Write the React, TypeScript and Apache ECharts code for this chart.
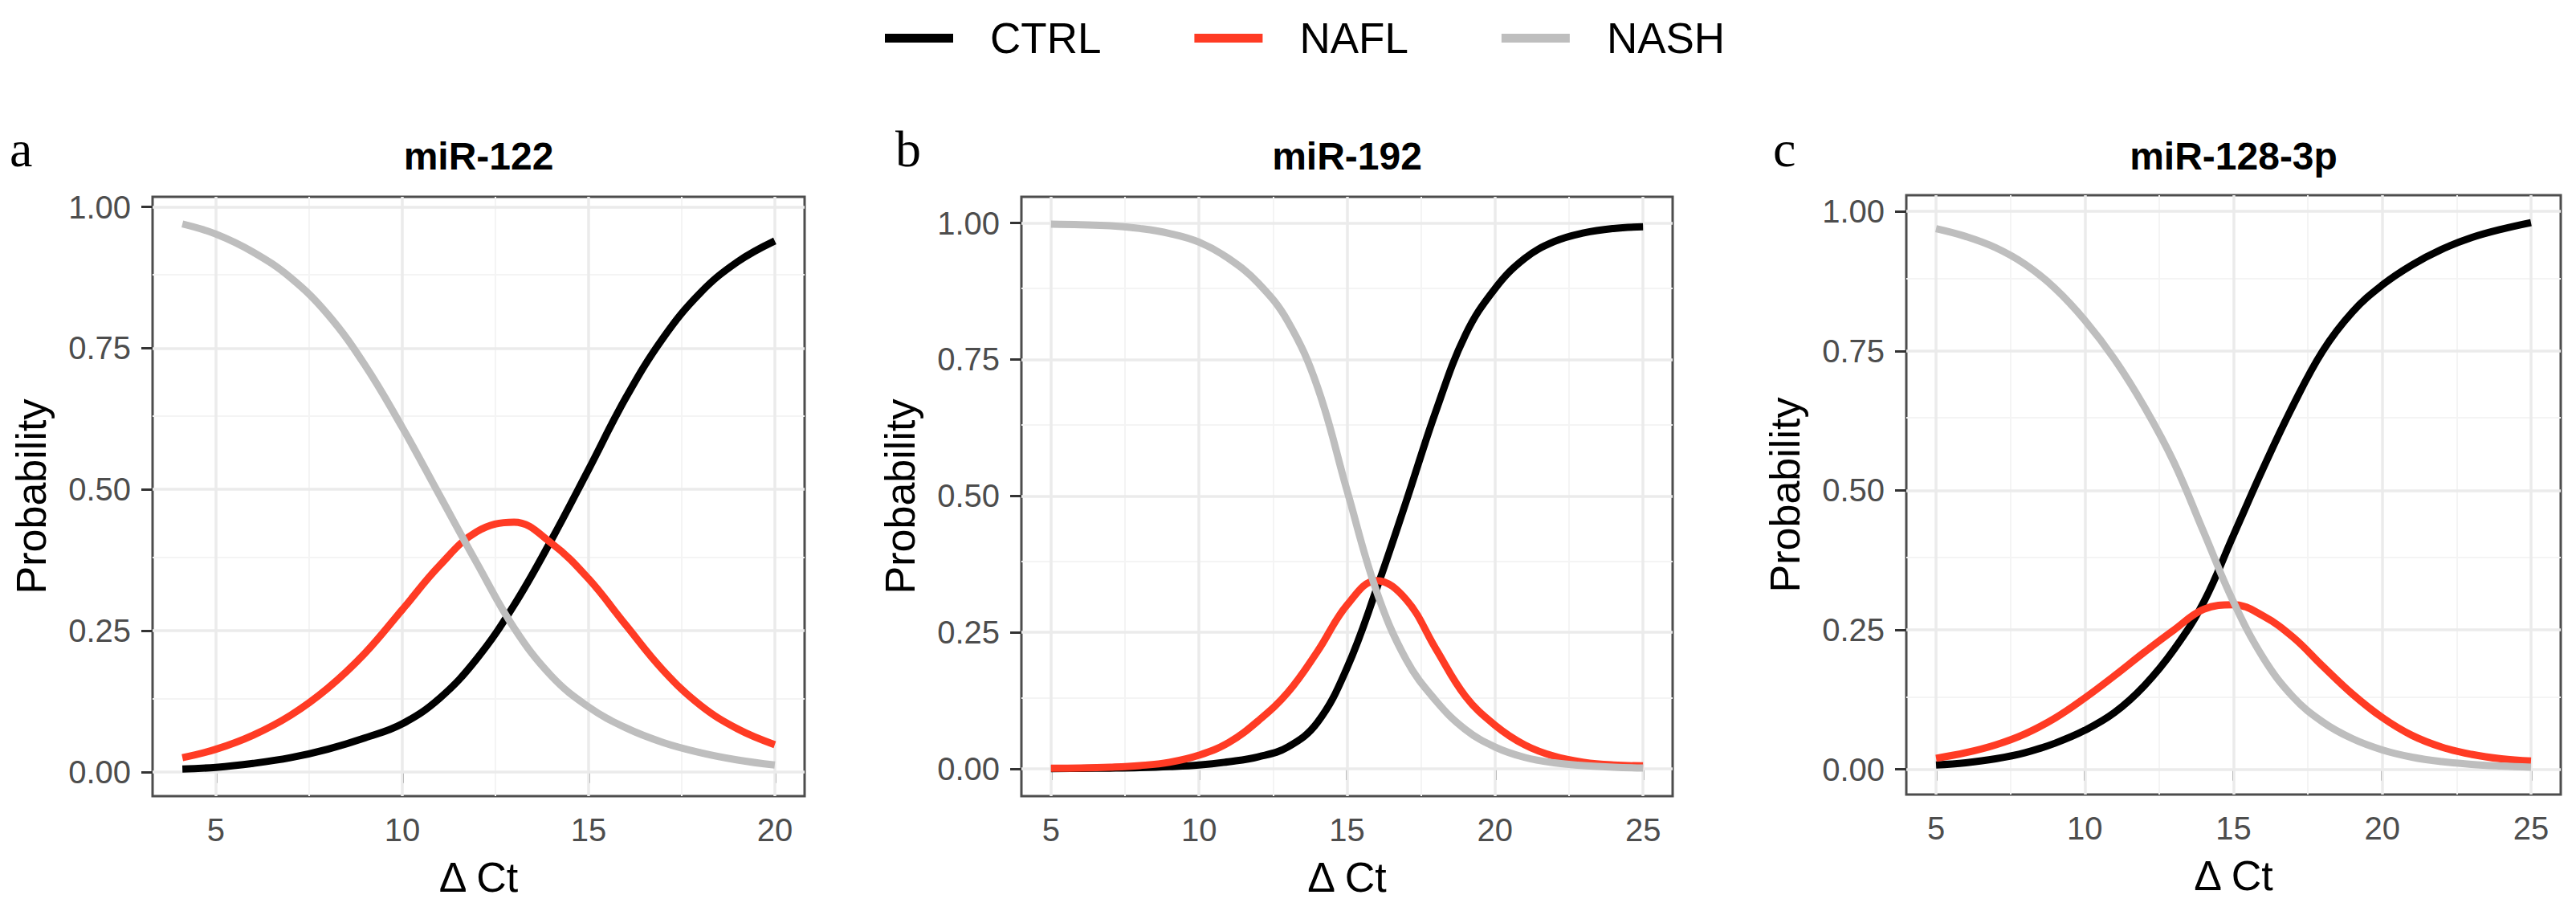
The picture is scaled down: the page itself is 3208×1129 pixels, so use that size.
import { useEffect, useRef } from "react";
import * as echarts from "echarts";

const xA = [4.1, 5, 6, 7, 8, 9, 10, 11, 12, 13, 14, 15, 16, 17, 18, 19, 20];
const xBC = [5, 6, 7, 8, 9, 10, 11, 12, 13, 14, 15, 16, 17, 18, 19, 20, 21, 22, 23, 24, 25];

// miR-122
const ctrlA = [0.005, 0.008, 0.015, 0.025, 0.04, 0.06, 0.085, 0.13, 0.2, 0.295, 0.41, 0.535, 0.662, 0.768, 0.848, 0.903, 0.94];
const naflA = [0.025, 0.04, 0.065, 0.1, 0.148, 0.21, 0.287, 0.365, 0.425, 0.442, 0.405, 0.342, 0.26, 0.18, 0.118, 0.076, 0.048];
const nashA = [0.97, 0.952, 0.92, 0.875, 0.81, 0.72, 0.61, 0.49, 0.37, 0.255, 0.17, 0.115, 0.078, 0.052, 0.034, 0.021, 0.012];

// miR-192
const ctrlB = [0.0005, 0.0008, 0.0013, 0.0022, 0.004, 0.007, 0.013, 0.022, 0.04, 0.085, 0.185, 0.33, 0.49, 0.655, 0.795, 0.88, 0.935, 0.966, 0.982, 0.99, 0.993];
const naflB = [0.001, 0.0015, 0.003, 0.006, 0.012, 0.025, 0.048, 0.088, 0.14, 0.215, 0.3, 0.345, 0.31, 0.22, 0.133, 0.08, 0.044, 0.023, 0.012, 0.007, 0.0055];
const nashB = [0.998, 0.997, 0.995, 0.99, 0.981, 0.965, 0.935, 0.89, 0.82, 0.7, 0.51, 0.325, 0.2, 0.125, 0.072, 0.04, 0.021, 0.011, 0.006, 0.003, 0.0015];

// miR-128-3p
const ctrlC = [0.008, 0.012, 0.019, 0.03, 0.047, 0.07, 0.102, 0.15, 0.215, 0.3, 0.42, 0.54, 0.652, 0.75, 0.82, 0.868, 0.904, 0.932, 0.953, 0.968, 0.98];
const naflC = [0.02, 0.03, 0.044, 0.064, 0.092, 0.128, 0.168, 0.21, 0.25, 0.287, 0.295, 0.275, 0.237, 0.185, 0.135, 0.093, 0.061, 0.04, 0.027, 0.019, 0.015];
const nashC = [0.969, 0.955, 0.935, 0.905, 0.862, 0.805, 0.735, 0.65, 0.55, 0.425, 0.3, 0.2, 0.13, 0.085, 0.055, 0.035, 0.022, 0.014, 0.009, 0.006, 0.004];

const groups = ["CTRL", "NAFL", "NASH"];
const colors = ["#000000", "#FF3B24", "#BEBEBE"];
const titles = ["miR-122", "miR-192", "miR-128-3p"];
const letters = ["a", "b", "c"];

const xTicksA = [5, 10, 15, 20];
const xMinorA = [7.5, 12.5, 17.5];
const xTicksBC = [5, 10, 15, 20, 25];
const xMinorBC = [7.5, 12.5, 17.5, 22.5];
const yTicks = [0, 0.25, 0.5, 0.75, 1];
const yMinor = [0.125, 0.375, 0.625, 0.875];

const FONT = "'Liberation Sans', Arial, sans-serif";

const panels = [
  {
    x: xA, ys: [ctrlA, naflA, nashA], xTicks: xTicksA, xMinor: xMinorA,
    xMin: 3.3, xMax: 20.8, yMin: -0.043, yMax: 1.018,
    left: 190, top: 245, width: 812, height: 746, labelX: 12,
  },
  {
    x: xBC, ys: [ctrlB, naflB, nashB], xTicks: xTicksBC, xMinor: xMinorBC,
    xMin: 4, xMax: 26, yMin: -0.05, yMax: 1.048,
    left: 1272, top: 245, width: 811, height: 746, labelX: 1115,
  },
  {
    x: xBC, ys: [ctrlC, naflC, nashC], xTicks: xTicksBC, xMinor: xMinorBC,
    xMin: 4, xMax: 26, yMin: -0.045, yMax: 1.029,
    left: 2374, top: 243, width: 815, height: 746, labelX: 2208,
  },
];

function App() {
  const chartRef = useRef<HTMLDivElement>(null);

  useEffect(() => {
    document.body.style.margin = "0";
    const chart = echarts.init(chartRef.current, null, { renderer: "svg" });

    const series: any[] = [];
    panels.forEach((p, i) => {
      // panel grid lines, minor first so the major ones sit on top
      const gridLines = [
        ...p.xMinor.map((v) => ({ xAxis: v, lineStyle: { color: "#F4F4F4", width: 2 } })),
        ...yMinor.map((v) => ({ yAxis: v, lineStyle: { color: "#F4F4F4", width: 2 } })),
        ...p.xTicks.map((v) => ({ xAxis: v, lineStyle: { color: "#EBEBEB", width: 3.5 } })),
        ...yTicks.map((v) => ({ yAxis: v, lineStyle: { color: "#EBEBEB", width: 3.5 } })),
      ];
      series.push({
        type: "line",
        name: "grid" + i,
        xAxisIndex: i,
        yAxisIndex: i,
        data: [],
        silent: true,
        markLine: {
          z: 1,
          silent: true,
          symbol: ["none", "none"],
          label: { show: false },
          emphasis: { disabled: true },
          lineStyle: { type: "solid" },
          data: gridLines,
        },
      });
      groups.forEach((g, k) => {
        series.push({
          type: "line",
          name: g,
          xAxisIndex: i,
          yAxisIndex: i,
          data: p.x.map((v, j) => [v, p.ys[k][j]]),
          symbol: "none",
          showSymbol: false,
          smooth: 0.4,
          silent: true,
          z: 3,
          color: colors[k],
          itemStyle: { color: colors[k] },
          lineStyle: { color: colors[k], width: 9 },
          emphasis: { disabled: true },
        });
      });
    });

    const option: any = {
      animation: false,
      textStyle: { fontFamily: FONT },
      legend: {
        left: 1097,
        top: 16,
        icon: "rect",
        itemWidth: 85,
        itemHeight: 11,
        itemGap: 116,
        data: groups,
        selectedMode: false,
        formatter: (name: string) => "{gap|}{txt|" + name + "}",
        textStyle: {
          fontSize: 53,
          color: "#000",
          fontFamily: FONT,
          rich: {
            gap: { width: 41 },
            txt: { fontSize: 53, color: "#000", fontFamily: FONT },
          },
        },
      },
      title: panels.map((p, i) => ({
        text: titles[i],
        left: p.left + p.width / 2,
        top: 170,
        padding: 0,
        textAlign: "center",
        textStyle: { fontSize: 48, fontWeight: "bold", color: "#000", fontFamily: FONT },
      })),
      grid: panels.map((p) => ({
        left: p.left,
        top: p.top,
        width: p.width,
        height: p.height,
        show: true,
        borderColor: "#4D4D4D",
        borderWidth: 3,
        backgroundColor: "transparent",
        outerBoundsMode: "none",
      })),
      xAxis: panels.map((p, i) => ({
        type: "value",
        gridIndex: i,
        min: p.xMin,
        max: p.xMax,
        axisLine: { show: false },
        axisTick: { show: true, length: 14, customValues: p.xTicks, lineStyle: { color: "#333", width: 3 } },
        axisLabel: { customValues: p.xTicks, fontSize: 40, color: "#4D4D4D", margin: 22, fontFamily: FONT },
        splitLine: { show: false },
        name: "Δ Ct",
        nameLocation: "middle",
        nameGap: 75,
        nameTextStyle: { fontSize: 52, color: "#000", fontFamily: FONT },
      })),
      yAxis: panels.map((p, i) => ({
        type: "value",
        gridIndex: i,
        min: p.yMin,
        max: p.yMax,
        axisLine: { show: false },
        axisTick: { show: true, length: 14, customValues: yTicks, lineStyle: { color: "#333", width: 3 } },
        axisLabel: {
          customValues: yTicks,
          fontSize: 40,
          color: "#4D4D4D",
          margin: 27,
          fontFamily: FONT,
          formatter: (v: number) => v.toFixed(2),
        },
        splitLine: { show: false },
        name: "Probability",
        nameLocation: "middle",
        nameGap: 125,
        nameTextStyle: { fontSize: 52, color: "#000", fontFamily: FONT },
      })),
      graphic: panels.map((p, i) => ({
        type: "text",
        x: p.labelX,
        y: 185,
        style: {
          text: letters[i],
          font: "64px 'Liberation Serif', serif",
          fill: "#000",
          align: "left",
          verticalAlign: "middle",
        },
      })),
      series,
    };

    chart.setOption(option);

    return () => {
      chart.dispose();
    };
  }, []);

  return <div ref={chartRef} style={{ width: "3208px", height: "1129px" }}></div>;
}

export default App;
